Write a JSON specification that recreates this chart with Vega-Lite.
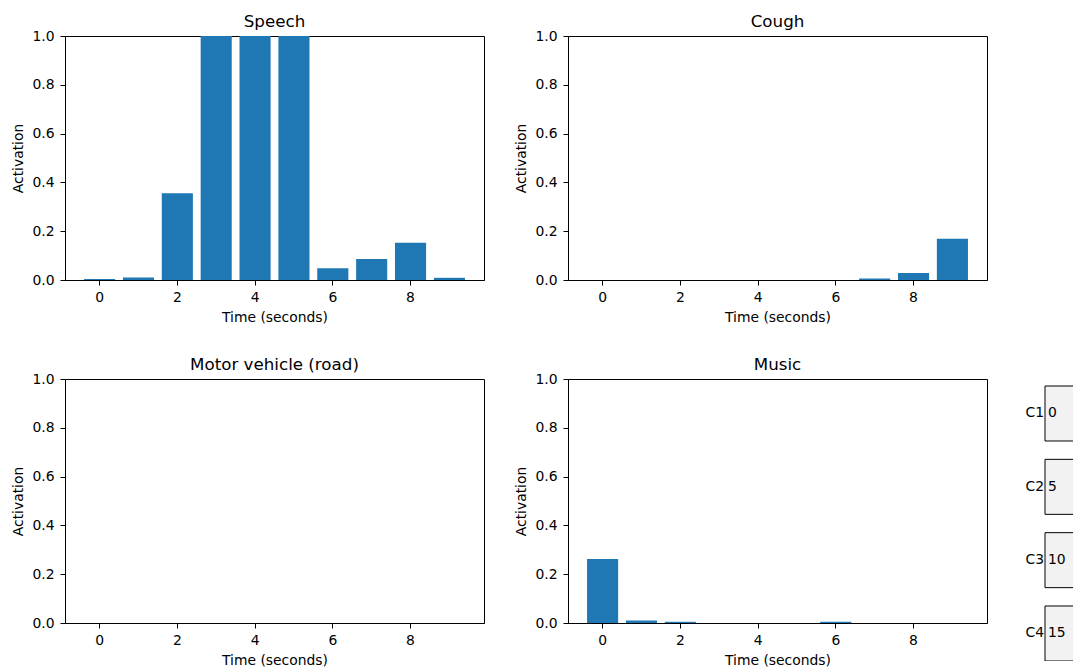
{
  "$schema": "https://vega.github.io/schema/vega-lite/v6.json",
  "padding": {"left": 11, "top": 13, "right": 0, "bottom": 0},
  "background": "white",
  "config": {
    "font": "DejaVu Sans",
    "view": {"stroke": "black", "strokeWidth": 1},
    "axis": {
      "grid": false,
      "domainColor": "black",
      "tickColor": "black",
      "tickSize": 5,
      "labelFont": "DejaVu Sans",
      "labelFontSize": 13.9,
      "labelColor": "black",
      "titleFont": "DejaVu Sans",
      "titleFontSize": 13.9,
      "titleFontWeight": "normal",
      "titleColor": "black"
    },
    "axisX": {"labelPadding": 5, "titlePadding": 7},
    "axisY": {"labelPadding": 6, "titlePadding": 6},
    "title": {"font": "DejaVu Sans", "fontSize": 16.7, "fontWeight": "normal", "color": "black", "offset": -2, "anchor": "middle"},
    "text": {"font": "DejaVu Sans", "color": "black"}
  },
  "datasets": {
    "act": [
      {"cls": "Speech", "t": 0, "a": 0.004},
      {"cls": "Speech", "t": 1, "a": 0.010},
      {"cls": "Speech", "t": 2, "a": 0.356},
      {"cls": "Speech", "t": 3, "a": 1.0},
      {"cls": "Speech", "t": 4, "a": 1.0},
      {"cls": "Speech", "t": 5, "a": 1.0},
      {"cls": "Speech", "t": 6, "a": 0.048},
      {"cls": "Speech", "t": 7, "a": 0.086},
      {"cls": "Speech", "t": 8, "a": 0.153},
      {"cls": "Speech", "t": 9, "a": 0.009},
      {"cls": "Cough", "t": 0, "a": 0.0},
      {"cls": "Cough", "t": 1, "a": 0.0},
      {"cls": "Cough", "t": 2, "a": 0.0},
      {"cls": "Cough", "t": 3, "a": 0.0},
      {"cls": "Cough", "t": 4, "a": 0.0},
      {"cls": "Cough", "t": 5, "a": 0.0},
      {"cls": "Cough", "t": 6, "a": 0.0},
      {"cls": "Cough", "t": 7, "a": 0.006},
      {"cls": "Cough", "t": 8, "a": 0.029},
      {"cls": "Cough", "t": 9, "a": 0.169},
      {"cls": "Motor vehicle (road)", "t": 0, "a": 0.0},
      {"cls": "Motor vehicle (road)", "t": 1, "a": 0.0},
      {"cls": "Motor vehicle (road)", "t": 2, "a": 0.0},
      {"cls": "Motor vehicle (road)", "t": 3, "a": 0.0},
      {"cls": "Motor vehicle (road)", "t": 4, "a": 0.0},
      {"cls": "Motor vehicle (road)", "t": 5, "a": 0.0},
      {"cls": "Motor vehicle (road)", "t": 6, "a": 0.0},
      {"cls": "Motor vehicle (road)", "t": 7, "a": 0.0},
      {"cls": "Motor vehicle (road)", "t": 8, "a": 0.0},
      {"cls": "Motor vehicle (road)", "t": 9, "a": 0.0},
      {"cls": "Music", "t": 0, "a": 0.262},
      {"cls": "Music", "t": 1, "a": 0.010},
      {"cls": "Music", "t": 2, "a": 0.005},
      {"cls": "Music", "t": 3, "a": 0.0},
      {"cls": "Music", "t": 4, "a": 0.0},
      {"cls": "Music", "t": 5, "a": 0.0},
      {"cls": "Music", "t": 6, "a": 0.005},
      {"cls": "Music", "t": 7, "a": 0.0},
      {"cls": "Music", "t": 8, "a": 0.0},
      {"cls": "Music", "t": 9, "a": 0.0}
    ],
    "boxes": [
      {"label": "C1", "value": "0"},
      {"label": "C2", "value": "5"},
      {"label": "C3", "value": "10"},
      {"label": "C4", "value": "15"}
    ]
  },
  "vconcat": [
    {
      "hconcat": [
        {
          "width": 419, "height": 244, "title": "Speech",
          "data": {"name": "act"},
          "transform": [{"filter": {"field": "cls", "equal": "Speech"}}],
          "mark": {"type": "bar", "color": "#1f77b4"},
          "encoding": {
            "x": {"field": "t", "type": "ordinal", "scale": {"paddingInner": 0.2, "paddingOuter": 0.49}, "axis": {"values": [0, 2, 4, 6, 8], "labelAngle": 0, "title": "Time (seconds)"}},
            "y": {"field": "a", "type": "quantitative", "scale": {"domain": [0, 1]}, "axis": {"title": "Activation", "values": [0, 0.2, 0.4, 0.6, 0.8, 1], "format": ".1f"}}
          }
        },
        {
          "width": 419, "height": 244, "title": "Cough",
          "data": {"name": "act"},
          "transform": [{"filter": {"field": "cls", "equal": "Cough"}}],
          "mark": {"type": "bar", "color": "#1f77b4"},
          "encoding": {
            "x": {"field": "t", "type": "ordinal", "scale": {"paddingInner": 0.2, "paddingOuter": 0.49}, "axis": {"values": [0, 2, 4, 6, 8], "labelAngle": 0, "title": "Time (seconds)"}},
            "y": {"field": "a", "type": "quantitative", "scale": {"domain": [0, 1]}, "axis": {"title": "Activation", "values": [0, 0.2, 0.4, 0.6, 0.8, 1], "format": ".1f"}}
          }
        }
      ],
      "spacing": 84,
      "bounds": "flush",
      "resolve": {"scale": {"x": "independent", "y": "independent"}}
    },
    {
      "hconcat": [
        {
          "width": 419, "height": 244, "title": "Motor vehicle (road)",
          "data": {"name": "act"},
          "transform": [{"filter": {"field": "cls", "equal": "Motor vehicle (road)"}}],
          "mark": {"type": "bar", "color": "#1f77b4"},
          "encoding": {
            "x": {"field": "t", "type": "ordinal", "scale": {"paddingInner": 0.2, "paddingOuter": 0.49}, "axis": {"values": [0, 2, 4, 6, 8], "labelAngle": 0, "title": "Time (seconds)"}},
            "y": {"field": "a", "type": "quantitative", "scale": {"domain": [0, 1]}, "axis": {"title": "Activation", "values": [0, 0.2, 0.4, 0.6, 0.8, 1], "format": ".1f"}}
          }
        },
        {
          "hconcat": [
            {
              "width": 419, "height": 244, "title": "Music",
              "data": {"name": "act"},
              "transform": [{"filter": {"field": "cls", "equal": "Music"}}],
              "mark": {"type": "bar", "color": "#1f77b4"},
              "encoding": {
                "x": {"field": "t", "type": "ordinal", "scale": {"paddingInner": 0.2, "paddingOuter": 0.49}, "axis": {"values": [0, 2, 4, 6, 8], "labelAngle": 0, "title": "Time (seconds)"}},
                "y": {"field": "a", "type": "quantitative", "scale": {"domain": [0, 1]}, "axis": {"title": "Activation", "values": [0, 0.2, 0.4, 0.6, 0.8, 1], "format": ".1f"}}
              }
            },
            {
              "width": 29, "height": 282,
              "data": {"name": "boxes"},
              "view": {"stroke": null},
              "encoding": {
                "y": {"field": "label", "type": "nominal", "scale": {"paddingInner": 0.25, "paddingOuter": 0.0477, "align": 1}, "axis": null}
              },
              "layer": [
                {
                  "mark": {"type": "rect", "fill": "#f2f2f2", "stroke": "black", "strokeWidth": 1, "clip": true},
                  "encoding": {
                    "x": {"datum": 0.035, "type": "quantitative", "scale": {"domain": [0, 1]}, "axis": null},
                    "x2": {"datum": 2}
                  }
                },
                {
                  "mark": {"type": "text", "align": "right", "baseline": "middle", "fontSize": 13.9, "dx": 0},
                  "encoding": {
                    "x": {"datum": 0, "type": "quantitative"},
                    "text": {"field": "label"}
                  }
                },
                {
                  "mark": {"type": "text", "align": "left", "baseline": "middle", "fontSize": 13.9, "dx": 3},
                  "encoding": {
                    "x": {"datum": 0.035, "type": "quantitative"},
                    "text": {"field": "value"}
                  }
                }
              ]
            }
          ],
          "spacing": 57,
          "bounds": "flush",
          "resolve": {"scale": {"x": "independent", "y": "independent"}}
        }
      ],
      "spacing": 84,
      "bounds": "flush",
      "resolve": {"scale": {"x": "independent", "y": "independent"}}
    }
  ],
  "spacing": 30,
  "bounds": "full",
  "resolve": {"scale": {"x": "independent", "y": "independent"}}
}
